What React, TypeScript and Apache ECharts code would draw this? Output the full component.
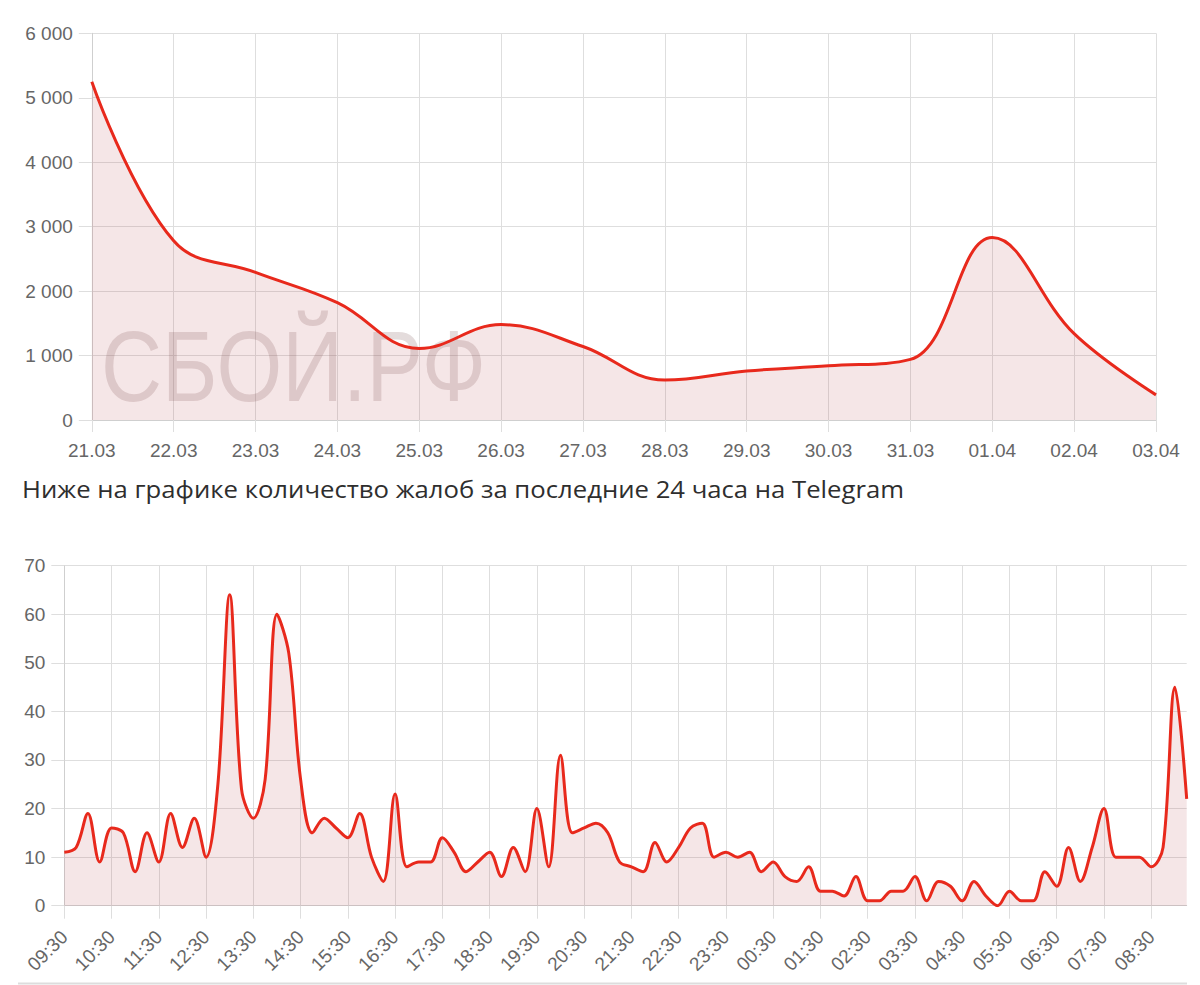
import React, { useEffect, useRef } from "react";
import * as echarts from "echarts";

const topDates = ["21.03", "22.03", "23.03", "24.03", "25.03", "26.03", "27.03", "28.03", "29.03", "30.03", "31.03", "01.04", "02.04", "03.04"];
const topValues = [5250, 2780, 2290, 1820, 1110, 1480, 1140, 620, 760, 840, 940, 2830, 1340, 390];

const hourTimes = [
  "09:30", "09:45", "10:00", "10:15", "10:30", "10:45", "11:00", "11:15",
  "11:30", "11:45", "12:00", "12:15", "12:30", "12:45", "13:00", "13:15",
  "13:30", "13:45", "14:00", "14:15", "14:30", "14:45", "15:00", "15:15",
  "15:30", "15:45", "16:00", "16:15", "16:30", "16:45", "17:00", "17:15",
  "17:30", "17:45", "18:00", "18:15", "18:30", "18:45", "19:00", "19:15",
  "19:30", "19:45", "20:00", "20:15", "20:30", "20:45", "21:00", "21:15",
  "21:30", "21:45", "22:00", "22:15", "22:30", "22:45", "23:00", "23:15",
  "23:30", "23:45", "00:00", "00:15", "00:30", "00:45", "01:00", "01:15",
  "01:30", "01:45", "02:00", "02:15", "02:30", "02:45", "03:00", "03:15",
  "03:30", "03:45", "04:00", "04:15", "04:30", "04:45", "05:00", "05:15",
  "05:30", "05:45", "06:00", "06:15", "06:30", "06:45", "07:00", "07:15",
  "07:30", "07:45", "08:00", "08:15", "08:30", "08:45", "09:00", "09:15",
];
const hourValues = [
  11, 12, 19, 9, 16, 15, 7, 15, 9, 19, 12, 18, 10, 25, 64, 24,
  18, 26, 60, 52, 26, 15, 18, 16, 14, 19, 10, 5, 23, 8, 9, 9,
  14, 11, 7, 9, 11, 6, 12, 7, 20, 8, 31, 15, 16, 17, 15, 9,
  8, 7, 13, 9, 12, 16, 17, 10, 11, 10, 11, 7, 9, 6, 5, 8,
  3, 3, 2, 6, 1, 1, 3, 3, 6, 1, 5, 4, 1, 5, 2, 0,
  3, 1, 1, 7, 4, 12, 5, 12, 20, 10, 10, 10, 8, 12, 45, 22,
];

const titleText = "Ниже на графике количество жалоб за последние 24 часа на Telegram";
const watermarkText = "СБОЙ.РФ";

const LINE = "#e8291c";
const FILL = "rgba(185, 75, 85, 0.2)";
const GRID = "#dedede";
const AXIS = "#cfcfcf";
const LABEL = "#666666";
const FONT = "'Liberation Sans', Arial, sans-serif";

const fmtThousands = (v: number) => String(v).replace(/\B(?=(\d{3})+(?!\d))/g, " ");

export default function App() {
  const ref = useRef<HTMLDivElement>(null);
  useEffect(() => {
    if (!ref.current) return;
    const chart = echarts.init(ref.current, undefined, { renderer: "svg" });
    const xCommon = (gridIndex: number, data: string[], extra: any) => ({
      type: "category",
      gridIndex,
      data,
      boundaryGap: false,
      axisLine: { show: true, lineStyle: { color: AXIS, width: 1 } },
      axisTick: { show: true, length: 13, lineStyle: { color: GRID }, ...(extra.tick || {}) },
      axisLabel: { color: LABEL, fontSize: 19, fontFamily: FONT, ...(extra.label || {}) },
      splitLine: { show: true, lineStyle: { color: GRID, width: 1 }, ...(extra.split || {}) },
    });
    const yCommon = (gridIndex: number, max: number, interval: number, formatter?: any) => ({
      type: "value",
      gridIndex,
      min: 0,
      max,
      interval,
      axisLine: { show: true, lineStyle: { color: AXIS, width: 1 } },
      axisTick: { show: true, length: 13, lineStyle: { color: GRID } },
      axisLabel: { color: LABEL, fontSize: 19, fontFamily: FONT, margin: 19, formatter },
      splitLine: { show: true, lineStyle: { color: GRID, width: 1 } },
    });
    chart.setOption({
      animation: false,
      backgroundColor: "#ffffff",
      grid: [
        { left: 91.8, right: 44, top: 33.3, bottom: 565 },
        { left: 64.3, right: 13.3, top: 565.7, bottom: 79.3 },
      ],
      xAxis: [
        xCommon(0, topDates, { label: { margin: 21 }, tick: { length: 12 } }),
        xCommon(1, hourTimes, {
          label: { margin: 28, rotate: 45, interval: 3 },
          tick: { interval: 3 },
          split: { interval: 3 },
        }),
      ],
      yAxis: [
        yCommon(0, 6000, 1000, (v: number) => fmtThousands(v)),
        yCommon(1, 70, 10),
      ],
      series: [
        {
          type: "line",
          xAxisIndex: 0,
          yAxisIndex: 0,
          data: topValues,
          smooth: 0.4,
          symbol: "none",
          lineStyle: { color: LINE, width: 3 },
          areaStyle: { color: FILL },
        },
        {
          type: "line",
          xAxisIndex: 1,
          yAxisIndex: 1,
          data: hourValues,
          smooth: 0.35,
          symbol: "none",
          lineStyle: { color: LINE, width: 3 },
          areaStyle: { color: FILL },
        },
      ],
      graphic: [
        {
          type: "text",
          x: 101,
          y: 366,
          scaleX: 0.845,
          z: 1,
          style: {
            text: watermarkText,
            fontSize: 100,
            fontFamily: FONT,
            fill: "rgba(110, 70, 70, 0.19)",
            verticalAlign: "middle",
          },
        },
        {
          type: "text",
          x: 22,
          y: 489,
          scaleX: 1.118,
          style: {
            text: titleText,
            fontSize: 23,
            fontFamily: "'Open Sans', sans-serif",
            fill: "#2e2e2e",
            verticalAlign: "middle",
          },
        },
        {
          type: "line",
          shape: { x1: 18, y1: 983.5, x2: 1187, y2: 983.5 },
          style: { stroke: "#dddddd", lineWidth: 2 },
        },
      ],
    });
    return () => chart.dispose();
  }, []);
  return (
    <div
      ref={ref}
      style={{ position: "absolute", left: 0, top: 0, width: 1200, height: 985 }}
    />
  );
}
